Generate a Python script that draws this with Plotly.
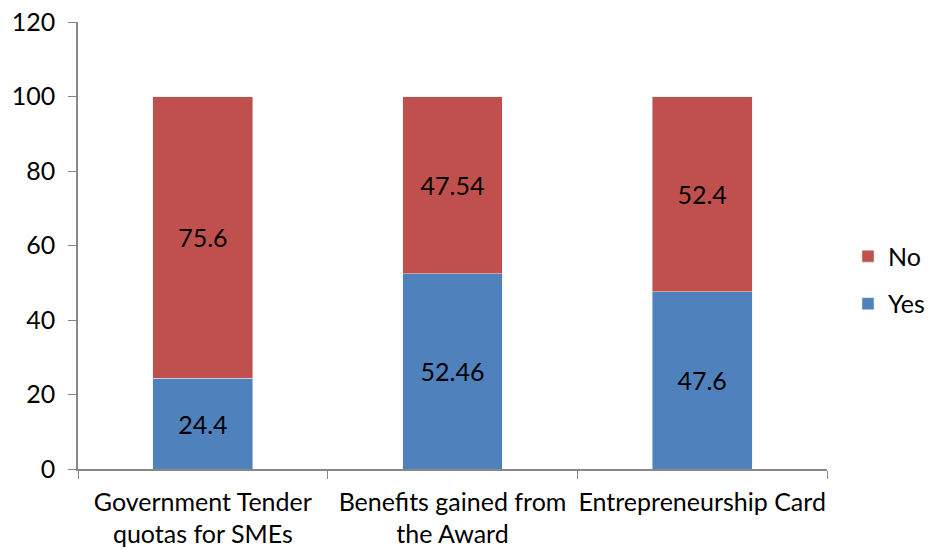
import plotly.graph_objects as go

categories = ["Government Tender<br>quotas for SMEs", "Benefits gained from<br>the Award", "Entrepreneurship Card"]
yes_vals = [24.4, 52.46, 47.6]
no_vals = [75.6, 47.54, 52.4]
yes_text = ["24.4", "52.46", "47.6"]
no_text = ["75.6", "47.54", "52.4"]

FONT = "Lato"
FS = 25
fig = go.Figure()
fig.add_trace(go.Bar(x=categories, y=yes_vals, name="Yes", marker_color="#4F81BD",
                     text=yes_text, textposition="inside", insidetextanchor="middle",
                     textfont=dict(color="black", size=FS, family=FONT), legendgroup="yes", legendrank=2))
fig.add_trace(go.Bar(x=categories, y=no_vals, name="No", marker_color="#C0504D",
                     text=no_text, textposition="inside", insidetextanchor="middle",
                     textfont=dict(color="black", size=FS, family=FONT), legendgroup="no", legendrank=1))

L, R = 78, 0
pw = 930 - L - R
fig.update_layout(
    barmode="stack", bargap=0.6,
    width=930, height=550,
    margin=dict(l=L, r=R, t=22, b=81),
    plot_bgcolor="white", paper_bgcolor="white",
    font=dict(family=FONT, size=FS, color="black"),
    legend=dict(traceorder="grouped", tracegroupgap=12, x=1.0, xanchor="right",
                y=0.423, yanchor="middle", font=dict(size=FS), bgcolor="rgba(0,0,0,0)"),
    uniformtext=dict(minsize=10, mode="show"),
)
fig.update_yaxes(range=[0, 120], dtick=20, showline=True, linecolor="#888888", linewidth=1.5,
                 ticks="outside", ticklen=8, tickcolor="#888888", showgrid=False, zeroline=False,
                 ticklabelstandoff=8, automargin=False)
fig.update_xaxes(domain=[0, (827 - L) / pw], showline=True, linecolor="#888888", linewidth=1.5,
                 ticks="outside", ticklen=8, tickcolor="#888888", tickson="boundaries",
                 showgrid=False, ticklabelstandoff=10, automargin=False, tickangle=0)
fig.write_html("out.html")
